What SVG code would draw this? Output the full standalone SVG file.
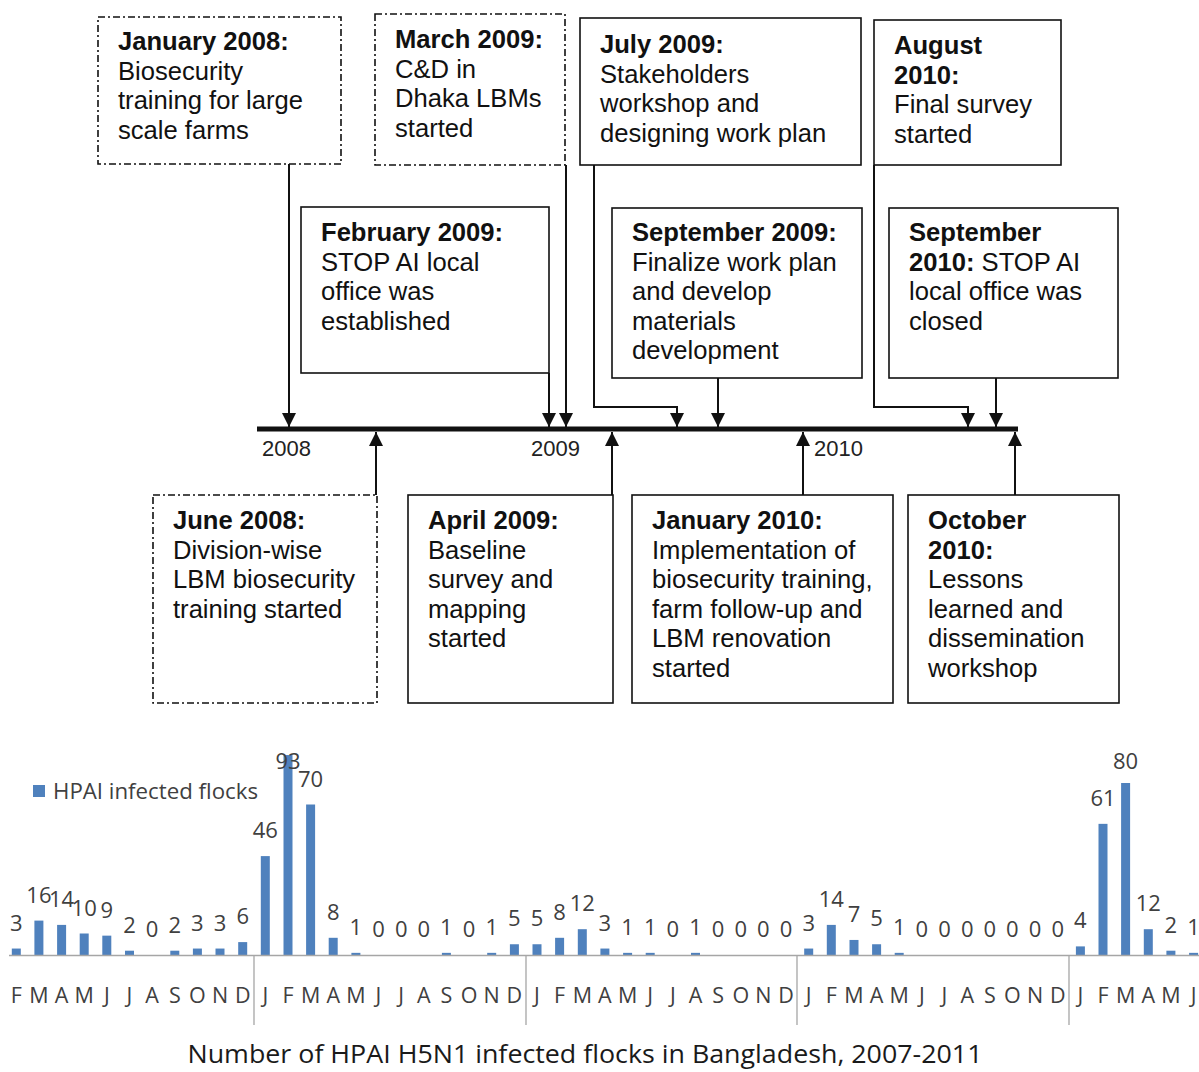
<svg xmlns="http://www.w3.org/2000/svg" width="1199" height="1072" viewBox="0 0 1199 1072">
<style>
.box{fill:#fff;stroke:#111;stroke-width:1.6}
.dash{stroke-dasharray:7 3 2 3}
.t{font-family:"Liberation Sans",Arial,sans-serif;font-size:25.6px;fill:#111}
.b{font-weight:bold}
.conn{stroke:#111;stroke-width:2;fill:none}
.yr{font-family:"Liberation Sans",Arial,sans-serif;font-size:22px;fill:#222}
.bar{fill:#4f81bd}
.dl{font-family:"Open Sans",sans-serif;font-size:22px;fill:#404040;text-anchor:middle}
.ml{font-family:"Open Sans",sans-serif;font-size:21.5px;fill:#404040;text-anchor:middle}
.ax{stroke:#a6a6a6;stroke-width:1.3;fill:none}
</style>
<defs>
<marker id="arr" markerWidth="14" markerHeight="14" refX="14" refY="7" orient="auto" markerUnits="userSpaceOnUse">
<path d="M0,0 L14,7 L0,14 z" fill="#111"/>
</marker>
</defs>
<rect width="1199" height="1072" fill="#fff"/>

<g id="timeline">
<line x1="257" y1="429" x2="1018" y2="429" stroke="#111" stroke-width="5"/>
<text class="yr" x="262" y="456">2008</text>
<text class="yr" x="531" y="456">2009</text>
<text class="yr" x="814" y="456">2010</text>
</g>

<g id="connectors">
<path class="conn" d="M289,164 V427" marker-end="url(#arr)"/>
<path class="conn" d="M549,373 V427" marker-end="url(#arr)"/>
<path class="conn" d="M566,165 V427" marker-end="url(#arr)"/>
<path class="conn" d="M594,165 V407 H677 V427" marker-end="url(#arr)"/>
<path class="conn" d="M718,378 V427" marker-end="url(#arr)"/>
<path class="conn" d="M874,165 V407 H968 V427" marker-end="url(#arr)"/>
<path class="conn" d="M996,378 V427" marker-end="url(#arr)"/>
<path class="conn" d="M376,495 V432" marker-end="url(#arr)"/>
<path class="conn" d="M612,495 V432" marker-end="url(#arr)"/>
<path class="conn" d="M803,495 V432" marker-end="url(#arr)"/>
<path class="conn" d="M1015,495 V432" marker-end="url(#arr)"/>
</g>

<g id="n-jan2008">
<rect class="box dash" x="98" y="17" width="243" height="147"/>
<text class="t"><tspan class="b" x="118" y="50">January 2008:</tspan><tspan x="118" y="79.5">Biosecurity</tspan><tspan x="118" y="109">training for large</tspan><tspan x="118" y="138.5">scale farms</tspan></text>
</g>

<g id="n-mar2009">
<rect class="box dash" x="375" y="14" width="190" height="151"/>
<text class="t"><tspan class="b" x="395" y="48">March 2009:</tspan><tspan x="395" y="77.5">C&amp;D in</tspan><tspan x="395" y="107">Dhaka LBMs</tspan><tspan x="395" y="136.5">started</tspan></text>
</g>

<g id="n-jul2009">
<rect class="box" x="580" y="18" width="281" height="147"/>
<text class="t"><tspan class="b" x="600" y="53">July 2009:</tspan><tspan x="600" y="82.5">Stakeholders</tspan><tspan x="600" y="112">workshop and</tspan><tspan x="600" y="141.5">designing work plan</tspan></text>
</g>

<g id="n-aug2010">
<rect class="box" x="874" y="20" width="187" height="145"/>
<text class="t"><tspan class="b" x="894" y="54">August</tspan><tspan class="b" x="894" y="83.5">2010:</tspan><tspan x="894" y="113">Final survey</tspan><tspan x="894" y="142.5">started</tspan></text>
</g>

<g id="n-feb2009">
<rect class="box" x="301" y="207" width="248" height="166"/>
<text class="t"><tspan class="b" x="321" y="241">February 2009:</tspan><tspan x="321" y="270.5">STOP AI local</tspan><tspan x="321" y="300">office was</tspan><tspan x="321" y="329.5">established</tspan></text>
</g>

<g id="n-sep2009">
<rect class="box" x="612" y="208" width="250" height="170"/>
<text class="t"><tspan class="b" x="632" y="241">September 2009:</tspan><tspan x="632" y="270.5">Finalize work plan</tspan><tspan x="632" y="300">and develop</tspan><tspan x="632" y="329.5">materials</tspan><tspan x="632" y="359">development</tspan></text>
</g>

<g id="n-sep2010">
<rect class="box" x="889" y="208" width="229" height="170"/>
<text class="t"><tspan class="b" x="909" y="241">September</tspan><tspan class="b" x="909" y="270.5">2010:</tspan><tspan> STOP AI</tspan><tspan x="909" y="300">local office was</tspan><tspan x="909" y="329.5">closed</tspan></text>
</g>

<g id="n-jun2008">
<rect class="box dash" x="153" y="495" width="224" height="208"/>
<text class="t"><tspan class="b" x="173" y="529">June 2008:</tspan><tspan x="173" y="558.5">Division-wise</tspan><tspan x="173" y="588">LBM biosecurity</tspan><tspan x="173" y="617.5">training started</tspan></text>
</g>

<g id="n-apr2009">
<rect class="box" x="408" y="495" width="205" height="208"/>
<text class="t"><tspan class="b" x="428" y="529">April 2009:</tspan><tspan x="428" y="558.5">Baseline</tspan><tspan x="428" y="588">survey and</tspan><tspan x="428" y="617.5">mapping</tspan><tspan x="428" y="647">started</tspan></text>
</g>

<g id="n-jan2010">
<rect class="box" x="632" y="495" width="261" height="208"/>
<text class="t"><tspan class="b" x="652" y="529">January 2010:</tspan><tspan x="652" y="558.5">Implementation of</tspan><tspan x="652" y="588">biosecurity training,</tspan><tspan x="652" y="617.5">farm follow-up and</tspan><tspan x="652" y="647">LBM renovation</tspan><tspan x="652" y="676.5">started</tspan></text>
</g>

<g id="n-oct2010">
<rect class="box" x="908" y="495" width="211" height="208"/>
<text class="t"><tspan class="b" x="928" y="529">October</tspan><tspan class="b" x="928" y="558.5">2010:</tspan><tspan x="928" y="588">Lessons</tspan><tspan x="928" y="617.5">learned and</tspan><tspan x="928" y="647">dissemination</tspan><tspan x="928" y="676.5">workshop</tspan></text>
</g>

<g id="chart">
<rect class="bar" x="33" y="785" width="12" height="12"/>
<text x="53" y="799" textLength="205" lengthAdjust="spacingAndGlyphs" style="font-family:'Open Sans',sans-serif;font-size:22px;fill:#404040">HPAI infected flocks</text>

<g id="bars">
<rect class="bar" x="11.8" y="948.55" width="9" height="6.45"/>
<rect class="bar" x="34.4" y="920.6" width="9" height="34.4"/>
<rect class="bar" x="57.1" y="924.9" width="9" height="30.1"/>
<rect class="bar" x="79.7" y="933.5" width="9" height="21.5"/>
<rect class="bar" x="102.3" y="935.65" width="9" height="19.35"/>
<rect class="bar" x="125" y="950.7" width="9" height="4.3"/>
<rect class="bar" x="170.3" y="950.7" width="9" height="4.3"/>
<rect class="bar" x="192.9" y="948.55" width="9" height="6.45"/>
<rect class="bar" x="215.5" y="948.55" width="9" height="6.45"/>
<rect class="bar" x="238.2" y="942.1" width="9" height="12.9"/>
<rect class="bar" x="260.8" y="856.1" width="9" height="98.9"/>
<rect class="bar" x="283.5" y="755.05" width="9" height="199.95"/>
<rect class="bar" x="306.1" y="804.5" width="9" height="150.5"/>
<rect class="bar" x="328.7" y="937.8" width="9" height="17.2"/>
<rect class="bar" x="351.4" y="952.85" width="9" height="2.15"/>
<rect class="bar" x="441.9" y="952.85" width="9" height="2.15"/>
<rect class="bar" x="487.2" y="952.85" width="9" height="2.15"/>
<rect class="bar" x="509.9" y="944.25" width="9" height="10.75"/>
<rect class="bar" x="532.5" y="944.25" width="9" height="10.75"/>
<rect class="bar" x="555.1" y="937.8" width="9" height="17.2"/>
<rect class="bar" x="577.8" y="929.2" width="9" height="25.8"/>
<rect class="bar" x="600.4" y="948.55" width="9" height="6.45"/>
<rect class="bar" x="623.1" y="952.85" width="9" height="2.15"/>
<rect class="bar" x="645.7" y="952.85" width="9" height="2.15"/>
<rect class="bar" x="691" y="952.85" width="9" height="2.15"/>
<rect class="bar" x="804.2" y="948.55" width="9" height="6.45"/>
<rect class="bar" x="826.8" y="924.9" width="9" height="30.1"/>
<rect class="bar" x="849.5" y="939.95" width="9" height="15.05"/>
<rect class="bar" x="872.1" y="944.25" width="9" height="10.75"/>
<rect class="bar" x="894.7" y="952.85" width="9" height="2.15"/>
<rect class="bar" x="1075.9" y="946.4" width="9" height="8.6"/>
<rect class="bar" x="1098.5" y="823.85" width="9" height="131.15"/>
<rect class="bar" x="1121.1" y="783" width="9" height="172"/>
<rect class="bar" x="1143.8" y="929.2" width="9" height="25.8"/>
<rect class="bar" x="1166.4" y="950.7" width="9" height="4.3"/>
<rect class="bar" x="1189.1" y="952.85" width="9" height="2.15"/>
</g>

<path class="ax" d="M9,955.5 H1199 M254,955.5 V1025 M526,955.5 V1025 M797,955.5 V1025 M1069,955.5 V1025"/>

<g id="data-labels">
<text class="dl" x="16.3" y="930.5">3</text>
<text class="dl" x="38.9" y="902.6">16</text>
<text class="dl" x="61.6" y="906.9">14</text>
<text class="dl" x="84.2" y="915.5">10</text>
<text class="dl" x="106.8" y="917.6">9</text>
<text class="dl" x="129.5" y="932.7">2</text>
<text class="dl" x="152.1" y="937">0</text>
<text class="dl" x="174.8" y="932.7">2</text>
<text class="dl" x="197.4" y="930.5">3</text>
<text class="dl" x="220" y="930.5">3</text>
<text class="dl" x="242.7" y="924.1">6</text>
<text class="dl" x="265.3" y="838.1">46</text>
<text class="dl" x="288" y="769">93</text>
<text class="dl" x="310.6" y="786.5">70</text>
<text class="dl" x="333.2" y="919.8">8</text>
<text class="dl" x="355.9" y="934.9">1</text>
<text class="dl" x="378.5" y="937">0</text>
<text class="dl" x="401.2" y="937">0</text>
<text class="dl" x="423.8" y="937">0</text>
<text class="dl" x="446.4" y="934.9">1</text>
<text class="dl" x="469.1" y="937">0</text>
<text class="dl" x="491.7" y="934.9">1</text>
<text class="dl" x="514.4" y="926.3">5</text>
<text class="dl" x="537" y="926.3">5</text>
<text class="dl" x="559.6" y="919.8">8</text>
<text class="dl" x="582.3" y="911.2">12</text>
<text class="dl" x="604.9" y="930.5">3</text>
<text class="dl" x="627.6" y="934.9">1</text>
<text class="dl" x="650.2" y="934.9">1</text>
<text class="dl" x="672.8" y="937">0</text>
<text class="dl" x="695.5" y="934.9">1</text>
<text class="dl" x="718.1" y="937">0</text>
<text class="dl" x="740.8" y="937">0</text>
<text class="dl" x="763.4" y="937">0</text>
<text class="dl" x="786" y="937">0</text>
<text class="dl" x="808.7" y="930.5">3</text>
<text class="dl" x="831.3" y="906.9">14</text>
<text class="dl" x="854" y="922">7</text>
<text class="dl" x="876.6" y="926.3">5</text>
<text class="dl" x="899.2" y="934.9">1</text>
<text class="dl" x="921.9" y="937">0</text>
<text class="dl" x="944.5" y="937">0</text>
<text class="dl" x="967.2" y="937">0</text>
<text class="dl" x="989.8" y="937">0</text>
<text class="dl" x="1012.4" y="937">0</text>
<text class="dl" x="1035.1" y="937">0</text>
<text class="dl" x="1057.7" y="937">0</text>
<text class="dl" x="1080.4" y="928.4">4</text>
<text class="dl" x="1103" y="805.9">61</text>
<text class="dl" x="1125.6" y="769">80</text>
<text class="dl" x="1148.3" y="911.2">12</text>
<text class="dl" x="1170.9" y="932.7">2</text>
<text class="dl" x="1193.6" y="934.9">1</text>
</g>

<g id="month-labels">
<text class="ml" x="16.3" y="1003">F</text>
<text class="ml" x="38.9" y="1003">M</text>
<text class="ml" x="61.6" y="1003">A</text>
<text class="ml" x="84.2" y="1003">M</text>
<text class="ml" x="106.8" y="1003">J</text>
<text class="ml" x="129.5" y="1003">J</text>
<text class="ml" x="152.1" y="1003">A</text>
<text class="ml" x="174.8" y="1003">S</text>
<text class="ml" x="197.4" y="1003">O</text>
<text class="ml" x="220" y="1003">N</text>
<text class="ml" x="242.7" y="1003">D</text>
<text class="ml" x="265.3" y="1003">J</text>
<text class="ml" x="288" y="1003">F</text>
<text class="ml" x="310.6" y="1003">M</text>
<text class="ml" x="333.2" y="1003">A</text>
<text class="ml" x="355.9" y="1003">M</text>
<text class="ml" x="378.5" y="1003">J</text>
<text class="ml" x="401.2" y="1003">J</text>
<text class="ml" x="423.8" y="1003">A</text>
<text class="ml" x="446.4" y="1003">S</text>
<text class="ml" x="469.1" y="1003">O</text>
<text class="ml" x="491.7" y="1003">N</text>
<text class="ml" x="514.4" y="1003">D</text>
<text class="ml" x="537" y="1003">J</text>
<text class="ml" x="559.6" y="1003">F</text>
<text class="ml" x="582.3" y="1003">M</text>
<text class="ml" x="604.9" y="1003">A</text>
<text class="ml" x="627.6" y="1003">M</text>
<text class="ml" x="650.2" y="1003">J</text>
<text class="ml" x="672.8" y="1003">J</text>
<text class="ml" x="695.5" y="1003">A</text>
<text class="ml" x="718.1" y="1003">S</text>
<text class="ml" x="740.8" y="1003">O</text>
<text class="ml" x="763.4" y="1003">N</text>
<text class="ml" x="786" y="1003">D</text>
<text class="ml" x="808.7" y="1003">J</text>
<text class="ml" x="831.3" y="1003">F</text>
<text class="ml" x="854" y="1003">M</text>
<text class="ml" x="876.6" y="1003">A</text>
<text class="ml" x="899.2" y="1003">M</text>
<text class="ml" x="921.9" y="1003">J</text>
<text class="ml" x="944.5" y="1003">J</text>
<text class="ml" x="967.2" y="1003">A</text>
<text class="ml" x="989.8" y="1003">S</text>
<text class="ml" x="1012.4" y="1003">O</text>
<text class="ml" x="1035.1" y="1003">N</text>
<text class="ml" x="1057.7" y="1003">D</text>
<text class="ml" x="1080.4" y="1003">J</text>
<text class="ml" x="1103" y="1003">F</text>
<text class="ml" x="1125.6" y="1003">M</text>
<text class="ml" x="1148.3" y="1003">A</text>
<text class="ml" x="1170.9" y="1003">M</text>
<text class="ml" x="1193.6" y="1003">J</text>
</g>

<text x="585" y="1063" text-anchor="middle" textLength="795" lengthAdjust="spacingAndGlyphs" style="font-family:'Open Sans',sans-serif;font-size:25px;fill:#1a1a1a">Number of HPAI H5N1 infected flocks in Bangladesh, 2007-2011</text>
</g>
</svg>
